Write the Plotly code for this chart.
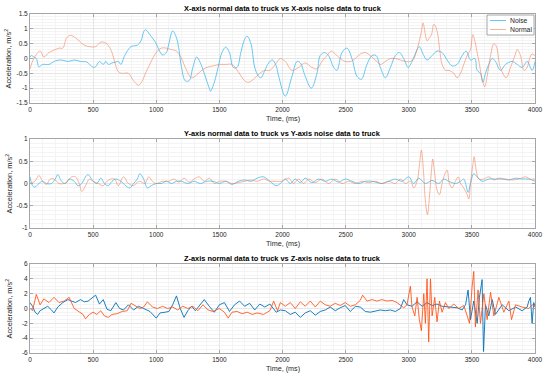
import plotly.graph_objects as go
from plotly.subplots import make_subplots

# ---------------- data ----------------
X_NOISE_T = [0,10,30,50,70,100,150,200,250,300,350,400,450,500,520,550,580,600,620,650,680,700,720,750,800,850,880,900,915,950,
             1000,1020,1050,1080,1100,1130,1160,1180,1200,1230,1260,1290,1320,1350,1380,1420,1430,1460,1490,1520,1550,1580,1610,1640,1670,1700,1720,1750,1780,1810,1830,1860,1890,1920,1950,
             1970,2022,2075,2115,2141,2180,2228,2273,2299,2333,2365,2405,2431,2471,2510,2550,2590,2625,2669,2709,2741,2775,2815,2855,2894,2926,2960,2995,
             3026,3066,3084,3119,3145,3185,3224,3264,3304,3343,3383,3423,3455,3489,3523,3542,3568,3587,3608,3634,3661,3687,3727,3766,3819,3859,3898,3938,3977,4000]
X_NOISE_V = [0.05,0.1,0.05,0.0,-0.28,-0.2,-0.2,-0.08,-0.05,-0.1,-0.05,-0.1,-0.12,-0.3,-0.28,-0.1,-0.2,-0.1,-0.2,-0.15,-0.12,-0.1,-0.2,0.1,0.4,0.45,0.6,0.9,0.97,0.8,
             0.5,0.3,0.12,0.2,0.5,0.93,0.7,0.3,-0.3,-0.75,-0.75,-0.3,0.05,-0.15,-0.5,-1.0,-1.1,-0.8,-0.3,0.2,0.38,0.2,-0.3,-0.3,0.2,0.65,0.75,0.5,-0.3,-0.6,-0.65,-0.4,-0.15,-0.05,-0.25,
             -0.6,-1.27,-0.6,-0.1,-0.15,-0.6,-1.0,-0.5,0.1,0.2,0.1,-0.3,-0.4,0.2,0.35,0.0,-0.6,-0.7,-0.2,0.1,0.1,-0.3,-0.65,-0.3,0.1,0.2,0.0,-0.3,
             -0.1,0.3,0.4,0.1,-0.05,0.1,0.25,0.2,-0.05,-0.25,-0.2,0.1,0.25,-0.05,0.0,-0.4,-0.5,-0.8,-0.5,-0.2,0.0,-0.1,-0.4,-0.2,-0.1,-0.2,-0.3,-0.1,-0.4,-0.1]

X_NORMAL_T = [0,30,80,110,150,200,230,260,290,320,360,400,430,470,520,560,600,640,670,700,730,780,820,860,890,920,960,
              1000,1040,1080,1120,1160,1200,1240,1280,1320,1360,1400,1450,1500,1550,1600,1650,1700,1730,1770,1820,1860,1900,1943,1983,
              2022,2075,2128,2180,2233,2273,2312,2352,2387,2418,2457,2497,2537,2577,2616,2656,2696,2735,2775,2815,2855,2894,2934,2973,
              3013,3040,3066,3084,3100,3113,3132,3145,3164,3180,3198,3211,3230,3245,3264,3291,3317,3357,3383,3410,3436,3463,3489,3507,3523,3542,3560,3581,3602,3621,3648,3674,3695,3719,3745,3772,3806,3841,3859,3885,3912,3938,3957,3977,4000]
X_NORMAL_V = [-0.35,0.0,0.25,0.05,0.2,0.3,0.35,0.35,0.7,0.78,0.7,0.55,0.45,0.4,0.4,0.55,0.52,0.3,-0.1,-0.45,-0.5,-0.5,-0.75,-0.9,-0.75,-0.45,-0.1,
              0.2,0.35,0.35,0.3,0.25,0.0,-0.4,-0.65,-0.55,-0.4,-0.3,-0.25,-0.2,-0.2,-0.2,-0.45,-0.75,-0.8,-0.7,-0.5,-0.4,-0.4,-0.2,0.0,
              -0.1,-0.4,-0.3,-0.15,-0.3,-0.35,-0.1,0.1,0.25,0.15,0.0,-0.1,-0.1,0.0,0.15,0.2,0.1,-0.05,-0.2,-0.1,0.0,0.0,-0.05,-0.1,
              -0.1,0.0,0.3,0.6,0.9,1.2,0.8,0.6,0.7,0.8,1.15,1.1,0.8,0.3,-0.2,-0.4,-0.4,-0.5,-0.65,-0.5,-0.2,0.1,0.3,0.8,0.6,0.2,-0.2,-0.7,-0.95,-0.6,0.1,0.5,0.4,-0.2,-0.5,-0.65,-0.3,0.1,0.3,0.1,-0.4,-0.3,0.0,0.15,0.1]

Y_NOISE_T = [0,20,40,70,100,130,170,200,220,250,280,310,350,380,410,440,460,500,530,560,590,620,650,680,720,750,790,820,850,870,900,930,960,
             1000,1040,1080,1120,1160,1200,1250,1300,1350,1400,1450,1500,1550,1600,1650,1700,1750,1800,1850,1900,1950,
             1983,2022,2062,2101,2141,2180,2233,2286,2339,2392,2445,2497,2550,2603,2656,2709,2788,2841,2894,2947,
             3000,3040,3079,3132,3185,3238,3277,3317,3370,3410,3436,3450,3470,3489,3515,3542,3581,3634,3687,3740,3793,3846,3898,3951,4000]
Y_NOISE_V = [0.15,-0.05,-0.08,0.0,0.05,0.0,0.0,0.1,0.2,0.05,0.0,0.1,0.05,-0.05,0.0,0.15,0.2,0.05,0.0,0.12,0.0,-0.05,0.05,0.1,0.05,-0.03,-0.1,0.0,0.1,0.22,0.1,-0.1,-0.05,
             0.0,0.0,0.05,0.0,0.05,0.05,0.0,0.05,0.0,0.05,0.05,0.0,0.05,-0.02,0.05,0.08,0.05,0.12,0.15,0.05,-0.05,
             0.0,0.1,0.0,0.1,0.02,0.12,0.02,0.1,0.05,0.1,0.03,0.1,0.05,0.0,0.05,0.05,0.0,0.05,0.1,0.05,
             0.15,0.0,0.12,0.0,0.07,0.0,0.1,0.05,0.0,0.05,0.1,0.0,-0.2,0.0,0.22,0.15,0.05,0.1,0.1,0.1,0.08,0.12,0.1,0.1,0.05]

Y_NORMAL_T = [0,40,70,100,130,160,190,230,270,300,330,360,390,410,440,470,500,540,580,610,640,670,700,740,780,820,840,870,910,940,970,
              1000,1050,1100,1140,1180,1220,1260,1300,1340,1380,1420,1460,1500,1550,1600,1650,1700,1750,1800,1850,1900,1950,
              1996,2049,2088,2128,2167,2207,2260,2312,2365,2418,2471,2524,2577,2630,2683,2735,2788,2841,2894,2934,2973,
              3013,3040,3066,3084,3100,3116,3132,3148,3164,3180,3190,3206,3224,3243,3264,3291,3304,3322,3343,3370,3391,3410,3436,3463,3476,3489,3507,3518,3534,3555,3595,3634,3674,3714,3766,3819,3872,3925,3964,4000]
Y_NORMAL_V = [0.0,0.05,0.18,0.05,-0.02,0.1,0.1,0.0,0.0,0.05,0.15,0.15,0.0,-0.18,-0.05,0.1,0.05,0.0,-0.05,0.05,0.1,0.1,-0.05,0.15,0.0,-0.05,0.0,0.05,0.0,0.15,0.05,
              0.0,0.05,0.05,0.1,0.03,0.12,0.03,0.1,0.15,0.05,0.12,0.0,0.05,0.05,0.0,0.02,0.05,0.08,0.05,0.1,0.05,0.05,
              0.05,0.12,0.0,0.1,0.0,0.1,0.02,0.1,0.0,0.1,0.0,0.05,0.0,0.05,0.02,0.05,0.0,0.05,0.0,0.1,0.0,
              0.05,-0.1,0.05,0.4,0.75,0.3,-0.4,-0.7,-0.3,0.3,0.55,0.2,-0.15,-0.25,0.0,0.25,0.3,0.0,-0.1,0.05,0.15,0.0,-0.1,-0.25,-0.35,0.0,0.4,0.6,0.3,0.1,0.1,0.15,0.08,0.12,0.1,0.08,0.1,0.15,0.1,0.1]

Z_NOISE_T = [0,20,40,60,80,110,140,170,190,220,260,300,330,360,400,430,460,500,520,550,580,610,640,680,710,740,780,820,860,900,950,
             1000,1030,1070,1100,1130,1160,1190,1220,1250,1280,1310,1340,1380,1420,1460,1500,1540,1580,1620,1660,1700,1740,1780,1820,1860,1900,1950,
             1983,2022,2062,2101,2141,2180,2220,2260,2299,2339,2378,2418,2457,2497,2537,2577,2616,2656,2696,2735,2775,2815,2855,2894,2934,2960,2986,
             3026,3066,3106,3145,3185,3224,3264,3304,3343,3383,3423,3450,3470,3489,3515,3542,3560,3581,3592,3608,3634,3661,3687,3740,3793,3846,3898,3938,3951,3964,3977,3990,4000]
Z_NOISE_V = [0.8,0.3,-0.5,-0.8,-0.3,0.0,0.3,-0.2,-0.6,0.2,0.8,1.2,1.0,0.8,1.2,0.9,1.0,1.5,1.8,0.6,1.2,-0.1,-0.3,0.8,0.0,-0.2,0.5,-0.2,0.3,0.0,-0.4,
             -1.3,-0.6,-0.5,-0.4,0.5,1.7,0.0,-1.2,-0.3,0.3,-0.3,0.3,1.2,0.3,-0.5,0.5,0.8,-0.4,0.5,1.0,0.3,0.7,-0.2,0.6,0.2,0.6,-0.5,
             -0.2,-0.3,-0.8,-0.5,-1.2,-0.6,-0.3,-0.9,-0.4,-0.2,0.2,-0.3,0.1,0.4,-0.4,0.3,0.2,-0.4,-0.5,-0.4,-0.2,-0.3,-0.2,-0.4,0.0,1.2,0.5,
             0.3,0.9,0.3,0.8,0.4,0.6,0.3,0.2,0.2,0.1,-0.2,0.5,2.5,-1.5,1.0,-2.0,1.5,3.9,-5.8,0.5,-1.0,1.2,-0.8,0.5,-0.3,0.2,-0.3,0.2,1.0,1.5,-2.0,0.8,0.3]

Z_NORMAL_T = [0,20,50,80,110,150,190,230,270,310,350,390,420,440,470,500,530,560,590,620,650,690,730,770,800,840,870,900,930,970,
              1010,1050,1090,1130,1170,1210,1250,1290,1330,1370,1410,1450,1500,1540,1570,1600,1640,1680,1720,1760,1800,1850,1900,1930,1960,
              1983,2022,2062,2101,2141,2180,2220,2260,2299,2339,2378,2418,2457,2497,2537,2577,2616,2635,2669,2709,2748,2788,2828,2868,2907,2934,2960,2986,
              3005,3013,3026,3048,3066,3084,3100,3119,3132,3145,3158,3172,3185,3206,3224,3243,3264,3291,3317,3357,3396,3436,3463,3481,3502,3515,3528,3549,3568,3595,3621,3648,3674,3714,3753,3793,3814,3846,3898,3951,3977,4000]
Z_NORMAL_V = [0.0,-0.3,1.9,0.5,1.3,0.8,1.5,0.8,1.0,1.5,0.0,-0.5,-0.8,-1.4,-0.8,-0.5,-0.8,-0.3,-1.0,-1.2,-0.8,-0.7,-0.4,-0.3,0.7,0.3,0.0,0.2,0.9,0.2,
              0.0,0.3,0.0,0.2,-0.2,0.3,0.0,0.3,-0.3,0.5,-0.2,-0.4,0.0,-0.5,-1.3,-0.5,-0.4,-0.7,-0.5,-0.8,-0.6,-0.8,-0.3,1.0,-0.3,
              0.8,0.3,0.8,0.0,0.9,0.3,1.0,0.2,1.0,0.5,0.3,0.7,0.4,0.8,0.3,0.5,1.1,1.8,1.0,1.2,1.0,1.2,1.0,1.1,0.8,0.4,0.1,0.5,
              2.0,3.0,0.2,-1.0,1.5,-1.5,-3.0,2.0,-2.0,4.0,-4.5,4.0,-1.0,1.5,-1.8,1.0,-0.5,0.8,0.0,0.6,0.0,0.4,-1.0,-2.0,3.0,5.0,-2.5,2.5,-2.0,2.0,-1.5,2.2,-1.0,1.5,-0.5,1.0,-1.5,0.5,0.2,0.0,0.5,0.2]

TITLES = ["X-axis normal data to truck vs X-axis noise data to truck",
          "Y-axis normal data to truck vs Y-axis noise data to truck",
          "Z-axis normal data to truck vs Z-axis noise data to truck"]
X_TICKS = [0, 500, 1000, 1500, 2000, 2500, 3000, 3500, 4000]
Y_TICKS_X = [-1.5, -1, -0.5, 0, 0.5, 1, 1.5]
Y_TICKS_Y = [-1, -0.5, 0, 0.5, 1]
Y_TICKS_Z = [-6, -4, -2, 0, 2, 4, 6]
SERIES_NAMES = ["Noise", "Normal"]
X_LABEL = "Time, (ms)"
Y_LABEL = "Acceleration, m/s<sup>2</sup>"

for a, b in [(X_NOISE_T, X_NOISE_V), (X_NORMAL_T, X_NORMAL_V), (Y_NOISE_T, Y_NOISE_V),
             (Y_NORMAL_T, Y_NORMAL_V), (Z_NOISE_T, Z_NOISE_V), (Z_NORMAL_T, Z_NORMAL_V)]:
    assert len(a) == len(b), (len(a), len(b))

# ---------------- figure ----------------
W, H = 550, 377
L, R = 30, 15
PW = W - L - R
FONT = "Liberation Sans, Arial, sans-serif"
fig = make_subplots(rows=3, cols=1)

doms = [(14, 103), (139, 228), (264, 353)]
light_blue = "rgba(77,190,238,0.85)"
light_orange = "rgba(240,120,80,0.55)"
dark_blue = "rgba(0,114,189,0.9)"
dark_orange = "rgba(255,80,20,0.85)"

series = [
    (X_NOISE_T, X_NOISE_V, X_NORMAL_T, X_NORMAL_V, light_blue, light_orange, "spline"),
    (Y_NOISE_T, Y_NOISE_V, Y_NORMAL_T, Y_NORMAL_V, light_blue, light_orange, "spline"),
    (Z_NOISE_T, Z_NOISE_V, Z_NORMAL_T, Z_NORMAL_V, dark_blue, dark_orange, "linear"),
]
for i, (nt, nv, mt, mv, cb, co, shape) in enumerate(series):
    fig.add_trace(go.Scatter(x=nt, y=nv, mode="lines", name=SERIES_NAMES[0],
                             line=dict(color=cb, width=1, shape=shape), showlegend=False),
                  row=i + 1, col=1)
    fig.add_trace(go.Scatter(x=mt, y=mv, mode="lines", name=SERIES_NAMES[1],
                             line=dict(color=co, width=1, shape=shape), showlegend=False),
                  row=i + 1, col=1)

yt_list = [Y_TICKS_X, Y_TICKS_Y, Y_TICKS_Z]
minor_y = [0.1, 0.1, 0.5]
axis_common = dict(showline=True, linecolor="#a6a6a6", linewidth=1, mirror="ticks",
                   ticks="inside", ticklen=3, tickcolor="#a6a6a6", automargin=False,
                   showgrid=True, gridcolor="#e6e6e6", gridwidth=1, zeroline=False,
                   tickfont=dict(family=FONT, size=6.5, color="#262626"))
for i in range(3):
    top, bot = doms[i]
    fig.update_yaxes(domain=[1 - bot / H, 1 - top / H], range=[yt_list[i][0], yt_list[i][-1]],
                     tickvals=yt_list[i], ticktext=[f"{v:g}" for v in yt_list[i]],
                     minor=dict(dtick=minor_y[i], showgrid=True, gridcolor="#f4f4f4", ticks=""),
                     row=i + 1, col=1, **axis_common)
    fig.update_xaxes(range=[0, 4000], tickvals=X_TICKS, ticktext=[str(v) for v in X_TICKS],
                     minor=dict(dtick=100, showgrid=True, gridcolor="#f4f4f4", ticks=""),
                     row=i + 1, col=1, **axis_common)
    # subplot title
    fig.add_annotation(text="<b>" + TITLES[i] + "</b>", xref="paper", yref="paper",
                       x=0.5, y=1 - top / H, yanchor="bottom", xanchor="center", showarrow=False,
                       font=dict(family=FONT, size=7.4, color="black"), yshift=-1)
    # x label
    fig.add_annotation(text=X_LABEL, xref="paper", yref="paper",
                       x=0.5, y=1 - bot / H, yanchor="top", xanchor="center", showarrow=False,
                       font=dict(family=FONT, size=7.2, color="#262626"), yshift=-9)
    # y label
    fig.add_annotation(text=Y_LABEL, xref="paper", yref="paper", textangle=-90,
                       x=-22 / PW, y=1 - (top + bot) / 2 / H, xanchor="center", yanchor="middle",
                       showarrow=False, font=dict(family=FONT, size=7.4, color="#262626"))

# legend box (drawn in paper coordinates in the first subplot)
lx0, lx1 = (487 - L) / PW, (534 - L) / PW
ly0, ly1 = 1 - 35 / H, 1 - 15 / H
fig.add_shape(type="rect", xref="paper", yref="paper", x0=lx0, x1=lx1, y0=ly0, y1=ly1,
              line=dict(color="#a6a6a6", width=1), fillcolor="white", layer="above")
for k, (name, col) in enumerate(zip(SERIES_NAMES, [light_blue, light_orange])):
    yy = 1 - (20.5 + k * 9) / H
    fig.add_shape(type="line", xref="paper", yref="paper", x0=(490 - L) / PW, x1=(506 - L) / PW,
                  y0=yy, y1=yy, line=dict(color=col, width=1), layer="above")
    fig.add_annotation(text=name, xref="paper", yref="paper", x=(508 - L) / PW, y=yy,
                       xanchor="left", yanchor="middle", showarrow=False,
                       font=dict(family=FONT, size=6.8, color="#262626"))

fig.update_layout(
    width=W, height=H,
    margin=dict(l=L, r=R, t=0, b=0),
    paper_bgcolor="white", plot_bgcolor="white",
    font=dict(family=FONT, size=7, color="#262626"),
    showlegend=False,
)

fig.write_html("out.html", config={"displayModeBar": False},
               post_script="document.body.style.margin='0';document.body.style.overflow='hidden';")
